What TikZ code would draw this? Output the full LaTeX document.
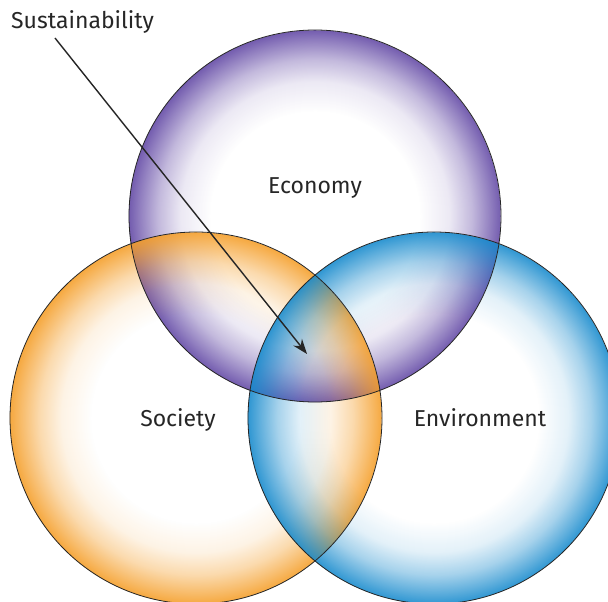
\documentclass[tikz,border=0pt]{standalone}
\usepackage{fontspec}
\setmainfont{Fira Sans}
\usetikzlibrary{arrows.meta,fadings}
\definecolor{econC}{RGB}{98,72,165}
\definecolor{socC}{RGB}{245,158,40}
\definecolor{envC}{RGB}{22,138,205}
\pgfdeclareradialshading{rimmask}{\pgfpoint{0bp}{0bp}}{color(0bp)=(black); color(14bp)=(black); color(18bp)=(black!88); color(21bp)=(black!62); color(23.5bp)=(black!30); color(25bp)=(black!10); color(50bp)=(black!10)}
\pgfdeclarefading{rimfade}{\pgfuseshading{rimmask}}
\tikzset{
  ring/.style={circle, draw=black!85, line width=0.8pt, minimum size=372pt, inner sep=0pt},
  lbl/.style={font=\fontsize{23}{26}\selectfont, text=black!85, inner sep=0pt},
  pointer/.style={draw=black!85, line width=1.4pt, -{Stealth[length=15pt,width=11pt]}},
  tint/.style={fill=#1, path fading=rimfade}
}
\begin{document}
\begin{tikzpicture}[x=1pt,y=-1pt]
\fill[white] (0,0) rectangle (608,602);
\useasboundingbox (0,0) rectangle (608,602);
\node[ring, draw=none] (econ) at (315,216) {};
\node[ring, draw=none] (soc) at (196,418) {};
\node[ring, draw=none] (env) at (434,418) {};
\fill[tint=econC] (econ.center) circle (186pt);
\fill[tint=socC] (soc.center) circle (186pt);
\fill[tint=envC] (env.center) circle (186pt);
\draw[draw=black!85, line width=0.8pt] (econ.center) circle (186pt) (soc.center) circle (186pt) (env.center) circle (186pt);
\node[lbl, anchor=base] (econT) at (315,193) {Economy};
\node[lbl, anchor=base] (socT) at (178,426) {Society};
\node[lbl, anchor=base] (envT) at (480,426) {Environment};
\node[lbl, anchor=base west] (sus) at (11,29) {Sustainability};
\coordinate (a0) at (55,38);
\coordinate (a1) at (307,354);
\draw[pointer] (a0) -- (a1);
\end{tikzpicture}
\end{document}
